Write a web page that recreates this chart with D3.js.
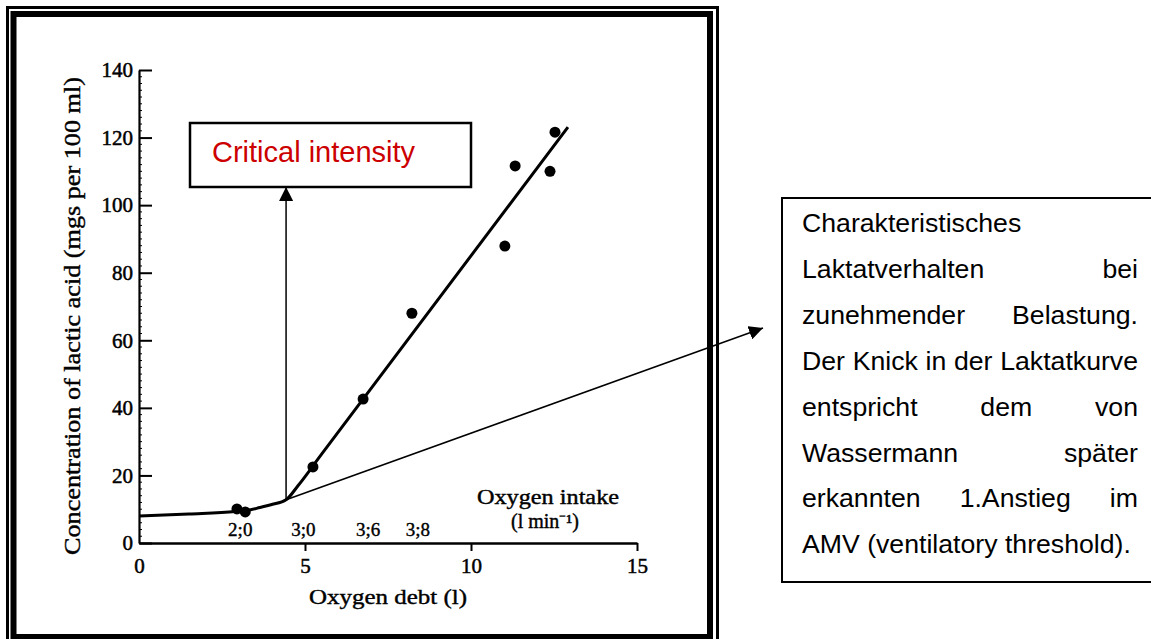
<!DOCTYPE html>
<html>
<head>
<meta charset="utf-8">
<script src="https://cdn.jsdelivr.net/npm/d3@7"></script>
<style>
  html, body { margin: 0; padding: 0; background: #fff; }
  svg { display: block; }
</style>
</head>
<body>
<script>
// ---------- data ----------
const xTickValues = [0, 5, 10, 15];
const yTickValues = [0, 20, 40, 60, 80, 100, 120, 140];
const pointX = [2.95, 3.2, 5.24, 6.75, 8.22, 11.02, 11.33, 12.38, 12.53];
const pointY = [10.1, 9.2, 22.5, 42.6, 68.0, 87.9, 111.6, 110.0, 121.6];
const curveX = [0, 1.5, 2.9, 3.3, 3.64, 4.0, 4.43, 4.8, 5.5, 12.92];
const curveY = [8.0, 8.6, 9.3, 9.7, 10.5, 11.4, 12.8, 17.1, 26.3, 123.1];
const kneeX = 4.43, kneeY = 12.8;
const intakeLabels = ["2;0", "3;0", "3;6", "3;8"];
const intakePos = [3.05, 4.95, 6.9, 8.4];
const xTitle = "Oxygen debt (l)";
const yTitle = "Concentration of lactic acid (mgs per 100 ml)";
const intakeTitle = "Oxygen intake";
const intakeUnit = "(l min\u207B\u00B9)";
const calloutText = "Critical intensity";
const descLines = [
  "Charakteristisches",
  "Laktatverhalten bei",
  "zunehmender Belastung.",
  "Der Knick in der Laktatkurve",
  "entspricht dem von",
  "Wassermann später",
  "erkannten 1.Anstieg im",
  "AMV (ventilatory threshold)."
];

// ---------- setup ----------
const W = 1151, H = 639;
const svg = d3.select("body").append("svg").attr("width", W).attr("height", H);
const serif = "'Liberation Serif', 'Times New Roman', serif";
const sans = "'Liberation Sans', Arial, sans-serif";

const x = d3.scaleLinear().domain([0, 15]).range([139, 637]);
const y = d3.scaleLinear().domain([0, 140]).range([543, 70]);

const defs = svg.append("defs");
defs.append("marker").attr("id", "tri").attr("viewBox", "0 0 14 14")
  .attr("refX", 14).attr("refY", 7).attr("markerWidth", 14).attr("markerHeight", 14)
  .attr("markerUnits", "userSpaceOnUse").attr("orient", "auto")
  .append("path").attr("d", "M0,0 L14,7 L0,14 Z").attr("fill", "#000");

// ---------- frames ----------
svg.append("rect").attr("x", 7.5).attr("y", 7.5).attr("width", 710).attr("height", 640)
  .attr("fill", "none").attr("stroke", "#000").attr("stroke-width", 3);
svg.append("rect").attr("x", 13.5).attr("y", 14).attr("width", 696.5).attr("height", 623)
  .attr("fill", "none").attr("stroke", "#000").attr("stroke-width", 6);

// ---------- axes ----------
const gx = svg.append("g").attr("transform", `translate(0,${y(0)})`)
  .call(d3.axisBottom(x).tickValues(xTickValues).tickSizeInner(8).tickSizeOuter(0).tickPadding(7));
gx.select(".domain").attr("stroke-width", 2.5);
gx.selectAll(".tick line").attr("stroke-width", 2).attr("display", d => d === 0 ? "none" : null);
gx.selectAll(".tick text").attr("font-family", serif).attr("font-size", 21)
  .attr("stroke", "#000").attr("stroke-width", 0.5);

// minor ticks on y axis
svg.append("g").selectAll("line").data(d3.range(2, 140, 2).filter(v => v % 20 !== 0))
  .join("line").attr("x1", x(0)).attr("x2", x(0) + 3)
  .attr("y1", d => y(d)).attr("y2", d => y(d)).attr("stroke", "#000").attr("stroke-width", 1);

const gy = svg.append("g").attr("transform", `translate(${x(0)},0)`)
  .call(d3.axisLeft(y).tickValues(yTickValues).tickSizeInner(-13).tickSizeOuter(0).tickPadding(6));
gy.select(".domain").attr("stroke-width", 2.2);
gy.selectAll(".tick line").attr("stroke-width", 2);
gy.selectAll(".tick text").attr("font-family", serif).attr("font-size", 21)
  .attr("stroke", "#000").attr("stroke-width", 0.5);

// axis titles
svg.append("text").attr("x", (x(0) + x(15)) / 2).attr("y", 604)
  .attr("text-anchor", "middle").attr("font-family", serif).attr("font-size", 21)
  .attr("stroke", "#000").attr("stroke-width", 0.4)
  .attr("textLength", 158).attr("lengthAdjust", "spacingAndGlyphs").text(xTitle);
svg.append("text").attr("transform", `translate(80,${(555 + 77) / 2}) rotate(-90)`)
  .attr("text-anchor", "middle").attr("font-family", serif).attr("font-size", 23)
  .attr("stroke", "#000").attr("stroke-width", 0.4)
  .attr("textLength", 478).attr("lengthAdjust", "spacingAndGlyphs").text(yTitle);

// oxygen intake labels
svg.append("g").selectAll("text").data(intakeLabels).join("text")
  .attr("x", (d, i) => x(intakePos[i])).attr("y", y(0) - 7)
  .attr("text-anchor", "middle").attr("font-family", serif).attr("font-size", 19)
  .attr("stroke", "#000").attr("stroke-width", 0.4).text(d => d);
svg.append("text").attr("x", 548).attr("y", 504).attr("text-anchor", "middle")
  .attr("font-family", serif).attr("font-size", 20).attr("stroke", "#000").attr("stroke-width", 0.4)
  .attr("textLength", 142).attr("lengthAdjust", "spacingAndGlyphs").text(intakeTitle);
svg.append("text").attr("x", 545).attr("y", 528).attr("text-anchor", "middle")
  .attr("font-family", serif).attr("font-size", 20).attr("stroke", "#000").attr("stroke-width", 0.4)
  .text(intakeUnit);

// ---------- curve & points ----------
const curveData = curveX.map((v, i) => [v, curveY[i]]);
svg.append("path").datum(curveData)
  .attr("d", d3.line().x(d => x(d[0])).y(d => y(d[1])).curve(d3.curveMonotoneX))
  .attr("fill", "none").attr("stroke", "#000").attr("stroke-width", 3).attr("stroke-linejoin", "round");

svg.append("g").selectAll("circle").data(pointX.map((v, i) => [v, pointY[i]])).join("circle")
  .attr("cx", d => x(d[0])).attr("cy", d => y(d[1])).attr("r", 5.5).attr("fill", "#000");

// ---------- arrows ----------
const boxX = 190, boxY = 123, boxW = 281, boxH = 64;
svg.append("line").attr("x1", x(kneeX)).attr("y1", y(kneeY)).attr("x2", x(kneeX)).attr("y2", boxY + boxH)
  .attr("stroke", "#000").attr("stroke-width", 1.5).attr("marker-end", "url(#tri)");
svg.append("line").attr("x1", x(kneeX)).attr("y1", y(kneeY)).attr("x2", 763).attr("y2", 328)
  .attr("stroke", "#000").attr("stroke-width", 1.5).attr("marker-end", "url(#tri)");

// ---------- callout box ----------
svg.append("rect").attr("x", boxX).attr("y", boxY).attr("width", boxW).attr("height", boxH)
  .attr("fill", "#fff").attr("stroke", "#000").attr("stroke-width", 2.5);
svg.append("text").attr("x", 212).attr("y", 162).attr("font-family", sans).attr("font-size", 29)
  .attr("fill", "#cc0000").text(calloutText);

// ---------- description box ----------
svg.append("rect").attr("x", 782).attr("y", 198).attr("width", 400).attr("height", 384)
  .attr("fill", "#fff").attr("stroke", "#000").attr("stroke-width", 2);
const left = 802, right = 1138, base0 = 232, lh = 45.9;
descLines.forEach((line, li) => {
  const words = line.split(" ");
  const g = svg.append("g");
  const ts = words.map(w => g.append("text").attr("font-family", sans).attr("font-size", 26.67)
    .attr("fill", "#000").attr("y", base0 + li * lh).text(w));
  const widths = ts.map(t => t.node().getComputedTextLength());
  const justify = li < descLines.length - 1 && words.length > 1;
  const gap = justify ? (right - left - d3.sum(widths)) / (words.length - 1) : 7.4;
  let cx = left;
  ts.forEach((t, i) => { t.attr("x", cx); cx += widths[i] + gap; });
});
</script>
</body>
</html>
